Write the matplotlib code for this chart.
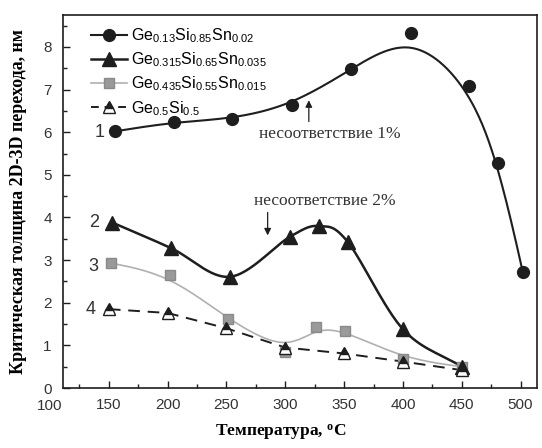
import numpy as np
import matplotlib
matplotlib.use('Agg')
import matplotlib.pyplot as plt
from matplotlib.ticker import MultipleLocator

# Ge0.13Si0.85Sn0.02
t1 = [155, 205, 255, 306, 356, 407, 456, 481, 502]
h1 = [6.02, 6.24, 6.31, 6.64, 7.48, 8.33, 7.09, 5.27, 2.71]
# Ge0.315Si0.65Sn0.035
t2 = [153, 203, 253, 304, 329, 353, 400, 450]
h2 = [3.88, 3.28, 2.61, 3.55, 3.80, 3.43, 1.38, 0.50]
# Ge0.435Si0.55Sn0.015
t3 = [152, 202, 251, 300, 326, 351, 400, 450]
h3 = [2.93, 2.65, 1.61, 0.85, 1.42, 1.34, 0.69, 0.50]
# Ge0.5Si0.5
t4 = [150, 200, 250, 300, 350, 400, 450]
h4 = [1.85, 1.76, 1.40, 0.95, 0.81, 0.62, 0.42]

labels = [r'$\mathregular{Ge_{0.13}Si_{0.85}Sn_{0.02}}$',
          r'$\mathregular{Ge_{0.315}Si_{0.65}Sn_{0.035}}$',
          r'$\mathregular{Ge_{0.435}Si_{0.55}Sn_{0.015}}$',
          r'$\mathregular{Ge_{0.5}Si_{0.5}}$']


def bspline(x, y, n=30):
    # uniform cubic B-spline, ends clamped by repeating end points
    p = np.column_stack([x, y]).astype(float)
    p = np.vstack([p[0], p[0], p, p[-1], p[-1]])
    u = np.linspace(0, 1, n)
    b = np.column_stack([(1 - u) ** 3, 3 * u ** 3 - 6 * u ** 2 + 4,
                         -3 * u ** 3 + 3 * u ** 2 + 3 * u + 1, u ** 3]) / 6
    out = [b @ p[i:i + 4] for i in range(len(p) - 3)]
    out = np.vstack(out)
    return out[:, 0], out[:, 1]


def catmull(x, y, n=30):
    p = np.column_stack([x, y]).astype(float)
    p = np.vstack([2 * p[0] - p[1], p, 2 * p[-1] - p[-2]])
    u = np.linspace(0, 1, n)[:, None]
    out = []
    for i in range(1, len(p) - 2):
        p0, p1, p2, p3 = p[i - 1], p[i], p[i + 1], p[i + 2]
        out.append(0.5 * (2 * p1 + (-p0 + p2) * u
                          + (2 * p0 - 5 * p1 + 4 * p2 - p3) * u ** 2
                          + (-p0 + 3 * p1 - 3 * p2 + p3) * u ** 3))
    out = np.vstack(out)
    return out[:, 0], out[:, 1]


plt.rcParams['font.family'] = ['Liberation Sans', 'DejaVu Sans']
plt.rcParams['mathtext.fontset'] = 'custom'
plt.rcParams['mathtext.rm'] = 'Liberation Sans'

fig = plt.figure(figsize=(5.42, 4.48), dpi=100)
ax = fig.add_axes([0.1162, 0.1339, 0.8746, 0.8326])

dark = '#1e1e1e'
grey = '#9a9a9a'

xs, ys = bspline(t1, h1)
ax.plot(xs, ys, color=dark, lw=1.5, zorder=2)
ax.plot(t1, h1, 'o', color=dark, ms=8.5, zorder=3)

xs, ys = catmull(t2, h2)
ax.plot(xs, ys, color=dark, lw=1.8, zorder=2)
ax.plot(t2, h2, '^', color=dark, ms=10, zorder=4)

xs, ys = bspline(t3, h3)
ax.plot(xs, ys, color='#b0b0b0', lw=1.2, zorder=2)
ax.plot(t3, h3, 's', color=grey, mec='#8a8a8a', ms=7, zorder=3)

ax.plot(t4, h4, '--', color=dark, lw=1.4, dashes=(6, 4), zorder=2)
ax.plot(t4, h4, '^', ms=9, mec=dark, mfc=dark, mfcalt='white',
        fillstyle='top', mew=1, zorder=5)

# legend handles
h_1, = ax.plot([], [], '-o', color=dark, lw=1.5, ms=8.5)
h_2, = ax.plot([], [], '-^', color=dark, lw=1.8, ms=10)
h_3, = ax.plot([], [], '-s', color='#b0b0b0', mfc=grey, mec='#8a8a8a', lw=1.2, ms=7)
h_4, = ax.plot([], [], '^', ls=(0, (4, 3)), color=dark, lw=1.4, ms=9, mec=dark,
               mfc=dark, mfcalt='white', fillstyle='top')
ax.legend([h_1, h_2, h_3, h_4], labels, loc='upper left', frameon=False,
          fontsize=11.5, handlelength=2.3, handletextpad=0.2, labelspacing=0.35,
          borderaxespad=0.3, bbox_to_anchor=(0.035, 1.0))

ax.set_xlim(111, 514)
ax.set_ylim(0, 8.75)
ax.set_xticks(np.arange(150, 501, 50))
ax.xaxis.set_minor_locator(MultipleLocator(25))
ax.yaxis.set_major_locator(MultipleLocator(1))
ax.yaxis.set_minor_locator(MultipleLocator(0.5))
ax.tick_params(which='both', direction='in', labelsize=11, color=dark,
               labelcolor='#333333')
ax.tick_params(which='major', length=5, width=1)
ax.tick_params(which='minor', length=3, width=1)
ax.tick_params(axis='x', pad=7)
ax.tick_params(axis='y', pad=8)
for s in ax.spines.values():
    s.set_linewidth(1.2)
    s.set_color(dark)
ax.text(100, -0.25, '100', transform=ax.transData, ha='center', va='top',
        fontsize=11, color='#333333', clip_on=False)

serif = ['Liberation Serif', 'DejaVu Serif']
ax.set_xlabel('Температура, $\\mathregular{^o}$C', family=serif,
              fontsize=12.5, fontweight='bold', labelpad=8,
              x=(281 - 63) / 474)
ax.set_ylabel('Критическая толщина 2D-3D перехода, нм', family=serif,
              fontsize=13, fontweight='bold', labelpad=12)

# curve numbers
for txt, tx, ty in [('1', 142, 6.0), ('2', 137.5, 3.88), ('3', 136.5, 2.85), ('4', 134.5, 1.85)]:
    ax.text(tx, ty, txt, fontsize=13, ha='center', va='center', color='#333333')

arrow = dict(arrowstyle='-|>', color=dark, lw=0.9, mutation_scale=10,
             shrinkA=0, shrinkB=0)
ax.annotate('', xy=(320, 6.75), xytext=(320, 6.25), arrowprops=arrow)
ax.text(338, 5.97, 'несоответствие 1%', family=serif, fontsize=12.5,
        ha='center', va='center', color='#333333')
ax.annotate('', xy=(285, 3.58), xytext=(285, 4.12), arrowprops=arrow)
ax.text(334, 4.38, 'несоответствие 2%', family=serif, fontsize=12.5,
        ha='center', va='center', color='#333333')

fig.savefig('out.png', dpi=100)
